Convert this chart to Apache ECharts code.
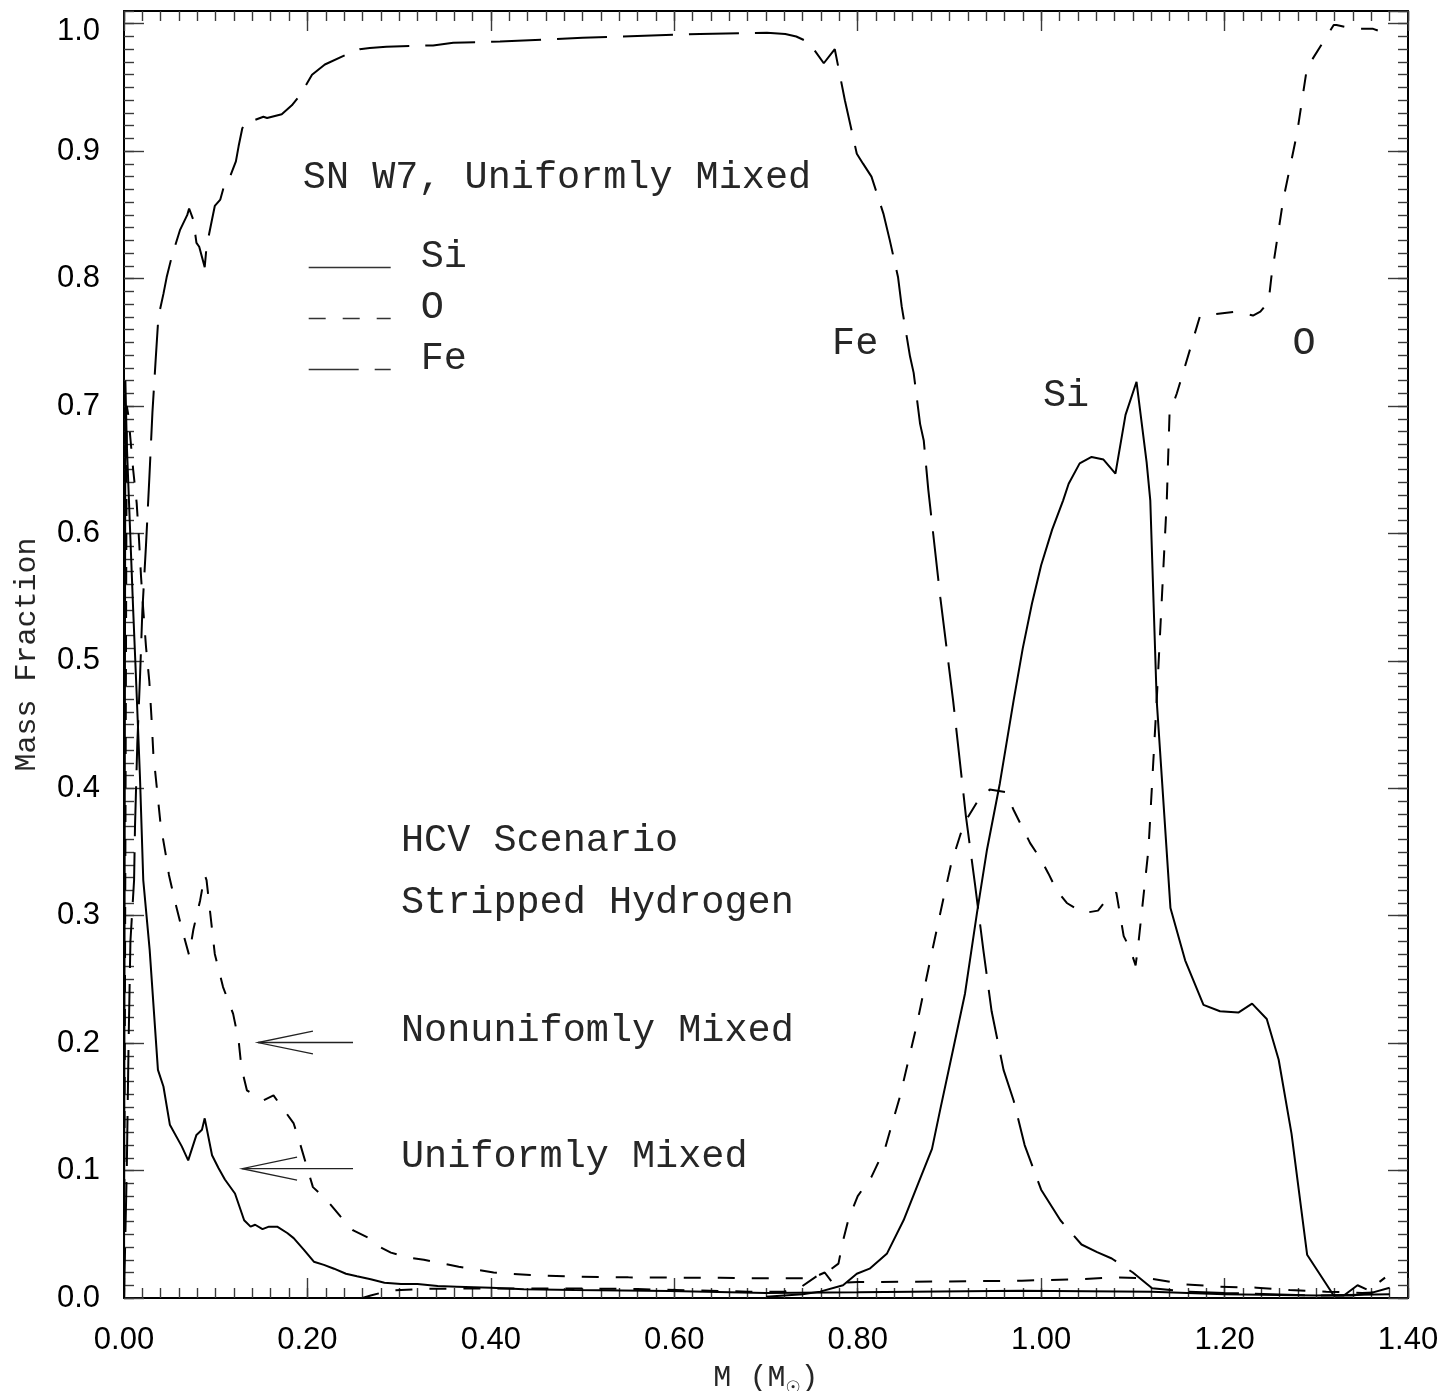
<!DOCTYPE html>
<html>
<head>
<meta charset="utf-8">
<title>Mass fraction vs M</title>
<script src="https://cdn.jsdelivr.net/npm/echarts@6/dist/echarts.min.js"></script>
<style>
html, body { margin: 0; padding: 0; background: #fff; }
#chart { width: 1441px; height: 1391px; }
</style>
</head>
<body>
<div id="chart"></div>
<script>
// tick labels
const xTickLabels = ['0.00', '0.20', '0.40', '0.60', '0.80', '1.00', '1.20', '1.40'];
const yTickLabels = ['0.0', '0.1', '0.2', '0.3', '0.4', '0.5', '0.6', '0.7', '0.8', '0.9', '1.0'];

// SN W7, uniformly mixed : [M, mass fraction]
const siW7 = [
  [0.70, 0.001], [0.72, 0.002], [0.74, 0.003], [0.759, 0.005], [0.784, 0.010], [0.799, 0.019],
  [0.813, 0.023], [0.832, 0.035], [0.85, 0.061], [0.866, 0.09], [0.881, 0.117], [0.89, 0.148],
  [0.904, 0.195], [0.917, 0.239], [0.93, 0.302], [0.941, 0.352], [0.955, 0.404], [0.97, 0.469],
  [0.98, 0.51], [0.99, 0.545], [1.00, 0.575], [1.012, 0.603], [1.024, 0.626], [1.03, 0.639],
  [1.042, 0.655], [1.055, 0.66], [1.068, 0.658], [1.081, 0.647], [1.092, 0.693], [1.104, 0.719],
  [1.115, 0.656], [1.119, 0.626], [1.126, 0.469], [1.141, 0.306], [1.157, 0.265], [1.177, 0.23],
  [1.195, 0.225], [1.215, 0.224], [1.23, 0.231], [1.246, 0.219], [1.259, 0.187], [1.273, 0.129],
  [1.29, 0.034], [1.319, 0.002], [1.34, 0.002], [1.36, 0.004], [1.38, 0.008]
];

const oW7 = [
  [0.26, 0.0], [0.269, 0.002], [0.291, 0.006], [0.33, 0.0072], [0.40, 0.0075], [0.50, 0.0075],
  [0.56, 0.007], [0.62, 0.006], [0.68, 0.005], [0.72, 0.005], [0.739, 0.009], [0.755, 0.017],
  [0.768, 0.021], [0.779, 0.027], [0.784, 0.045], [0.79, 0.062], [0.80, 0.08], [0.815, 0.095],
  [0.83, 0.118], [0.846, 0.158], [0.864, 0.213], [0.879, 0.265], [0.893, 0.312], [0.902, 0.341],
  [0.913, 0.366], [0.919, 0.376], [0.93, 0.389], [0.944, 0.399], [0.961, 0.397], [0.97, 0.383],
  [0.979, 0.37], [0.988, 0.357], [0.999, 0.345], [1.008, 0.333], [1.017, 0.32], [1.028, 0.31],
  [1.046, 0.302], [1.062, 0.304], [1.075, 0.316], [1.082, 0.318], [1.09, 0.284], [1.097, 0.274],
  [1.103, 0.261], [1.106, 0.278], [1.113, 0.325], [1.117, 0.352], [1.121, 0.404], [1.126, 0.469],
  [1.137, 0.626], [1.14, 0.694], [1.148, 0.71], [1.173, 0.77], [1.177, 0.771], [1.213, 0.774],
  [1.231, 0.771], [1.239, 0.774], [1.248, 0.782], [1.251, 0.801], [1.264, 0.862], [1.279, 0.914],
  [1.29, 0.966], [1.293, 0.969], [1.319, 0.999], [1.322, 0.999], [1.34, 0.996], [1.362, 0.996],
  [1.377, 0.992]
];

const feW7 = [
  [0.0, 0.0], [0.003, 0.10], [0.005, 0.2], [0.007, 0.28], [0.011, 0.328], [0.012, 0.37],
  [0.0145, 0.435], [0.0175, 0.488], [0.020, 0.539], [0.024, 0.591], [0.0276, 0.643], [0.031, 0.695],
  [0.0345, 0.736], [0.0375, 0.77], [0.043, 0.788], [0.0465, 0.801], [0.052, 0.817], [0.061, 0.838],
  [0.069, 0.85], [0.071, 0.855], [0.0756, 0.846], [0.079, 0.828], [0.082, 0.825], [0.088, 0.809],
  [0.09, 0.825], [0.0956, 0.845], [0.099, 0.857], [0.105, 0.862], [0.11, 0.875], [0.114, 0.877],
  [0.122, 0.892], [0.125, 0.904], [0.129, 0.918], [0.134, 0.924], [0.141, 0.924], [0.152, 0.927],
  [0.156, 0.926], [0.172, 0.929], [0.183, 0.936], [0.192, 0.944], [0.205, 0.96], [0.219, 0.968],
  [0.243, 0.976], [0.257, 0.98], [0.268, 0.981], [0.286, 0.982], [0.337, 0.983], [0.359, 0.985],
  [0.41, 0.986], [0.5, 0.989], [0.628, 0.992], [0.701, 0.993], [0.721, 0.992], [0.733, 0.99],
  [0.748, 0.985], [0.753, 0.979], [0.763, 0.969], [0.775, 0.98], [0.786, 0.94], [0.799, 0.898],
  [0.806, 0.89], [0.815, 0.88], [0.828, 0.851], [0.835, 0.83], [0.844, 0.801], [0.848, 0.778],
  [0.857, 0.739], [0.861, 0.726], [0.868, 0.686], [0.872, 0.673], [0.877, 0.634], [0.89, 0.55],
  [0.904, 0.469], [0.918, 0.378], [0.928, 0.324], [0.937, 0.273], [0.946, 0.225], [0.959, 0.179],
  [0.97, 0.155], [0.982, 0.12], [1.0, 0.085], [1.021, 0.061], [1.044, 0.042], [1.061, 0.036],
  [1.077, 0.031], [1.1, 0.02], [1.121, 0.0076], [1.16, 0.005], [1.2, 0.004], [1.25, 0.003],
  [1.3, 0.002], [1.33, 0.002], [1.345, 0.010], [1.357, 0.006], [1.375, 0.016]
];

// HCV scenario, stripped hydrogen
const hUniform = [
  [0.0, 0.0], [0.0015, 0.72], [0.003, 0.671], [0.0065, 0.605], [0.010, 0.54], [0.0138, 0.474],
  [0.0174, 0.409], [0.021, 0.328], [0.028, 0.273], [0.037, 0.179], [0.043, 0.166], [0.05, 0.136],
  [0.063, 0.119], [0.07, 0.108], [0.079, 0.128], [0.085, 0.132], [0.088, 0.141], [0.096, 0.112],
  [0.103, 0.102], [0.11, 0.093], [0.121, 0.082], [0.131, 0.061], [0.138, 0.056], [0.143, 0.0575],
  [0.151, 0.054], [0.158, 0.056], [0.167, 0.056], [0.178, 0.051], [0.185, 0.047], [0.196, 0.038],
  [0.207, 0.0285], [0.218, 0.026], [0.229, 0.023], [0.242, 0.019], [0.254, 0.017], [0.269, 0.0147],
  [0.284, 0.012], [0.302, 0.011], [0.32, 0.011], [0.342, 0.0094], [0.363, 0.0089], [0.40, 0.008],
  [0.436, 0.0068], [0.491, 0.0063], [0.595, 0.0055], [0.70, 0.004], [0.80, 0.0045], [0.977, 0.0057],
  [1.12, 0.005], [1.2, 0.003], [1.3, 0.002], [1.38, 0.003]
];

const hNonuniform = [
  [0.0, 0.0], [0.003, 0.70], [0.0047, 0.693], [0.010, 0.65], [0.0138, 0.624], [0.0164, 0.595],
  [0.0185, 0.567], [0.021, 0.54], [0.024, 0.511], [0.0276, 0.484], [0.030, 0.455], [0.032, 0.427],
  [0.036, 0.399], [0.040, 0.371], [0.0465, 0.344], [0.049, 0.332], [0.056, 0.31], [0.063, 0.29],
  [0.071, 0.269], [0.0756, 0.289], [0.083, 0.312], [0.088, 0.332], [0.090, 0.328], [0.099, 0.27],
  [0.108, 0.244], [0.119, 0.223], [0.125, 0.202], [0.128, 0.181], [0.134, 0.163], [0.145, 0.158],
  [0.152, 0.155], [0.163, 0.159], [0.172, 0.15], [0.185, 0.137], [0.192, 0.121], [0.206, 0.087],
  [0.221, 0.077], [0.236, 0.064], [0.25, 0.053], [0.267, 0.047], [0.279, 0.04], [0.291, 0.0356],
  [0.308, 0.032], [0.327, 0.030], [0.365, 0.0246], [0.403, 0.020], [0.443, 0.018], [0.491, 0.0167],
  [0.55, 0.0162], [0.6, 0.016], [0.65, 0.0158], [0.7, 0.0155], [0.75, 0.0155], [0.764, 0.020],
  [0.773, 0.0115], [0.8, 0.0125], [0.85, 0.0128], [0.9, 0.013], [0.979, 0.0136], [1.041, 0.0147],
  [1.079, 0.0162], [1.117, 0.0155], [1.157, 0.0107], [1.195, 0.0089], [1.235, 0.0081],
  [1.271, 0.0063], [1.311, 0.005], [1.35, 0.004], [1.38, 0.005]
];

// styles
const monoFont = '"Liberation Mono", "DejaVu Sans Mono", monospace';
const tickFont = '"Liberation Sans", Arial, sans-serif';
const textColor = '#262626';
const shortDash = [17, 17];
const longDash = [50, 16];

const chart = echarts.init(document.getElementById('chart'));

// helpers for the four sets of axis ticks (major and minor on each side)
function xAxisOf(position, interval, tickLen, withLine, withLabel) {
  return {
    type: 'value', position: position, min: 0, max: 1.4, interval: interval,
    axisLine: { show: withLine, onZero: false, lineStyle: { color: '#000', width: 2 } },
    axisTick: { show: true, inside: true, length: tickLen, lineStyle: { color: '#3a3a3a', width: 1.4 } },
    axisLabel: withLabel ? {
      show: true, margin: 27, fontFamily: tickFont, fontSize: 31, color: '#000',
      formatter: v => xTickLabels[Math.round(v / 0.2)]
    } : { show: false },
    splitLine: { show: false }
  };
}
function yAxisOf(position, interval, tickLen, withLine, withLabel) {
  return {
    type: 'value', position: position, min: 0, max: 1.01, interval: interval,
    axisLine: { show: withLine, onZero: false, lineStyle: { color: '#000', width: 2 } },
    axisTick: { show: true, inside: true, length: tickLen, lineStyle: { color: '#3a3a3a', width: 1.4 } },
    axisLabel: withLabel ? {
      show: true, margin: 24, fontFamily: tickFont, fontSize: 31, color: '#000', showMaxLabel: false,
      formatter: v => {
        if (v > 1.005) return '';
        const i = Math.round(v * 10);
        return i === 10 ? '{t|' + yTickLabels[i] + '}' : yTickLabels[i];
      },
      rich: { t: { fontFamily: tickFont, fontSize: 31, color: '#000', padding: [16, 0, 0, 0] } }
    } : { show: false },
    splitLine: { show: false }
  };
}

const xMain = xAxisOf('bottom', 0.2, 20, true, true);
xMain.name = 'M (M{s|\u2609})';
xMain.nameLocation = 'middle';
xMain.nameGap = 62;
xMain.nameTextStyle = {
  fontFamily: monoFont, fontSize: 30, color: textColor, verticalAlign: 'top',
  rich: { s: { fontFamily: '"DejaVu Sans"', fontSize: 17, color: textColor, padding: [20, 0, 0, 0] } }
};

const yMain = yAxisOf('left', 0.1, 20, true, true);
yMain.name = 'Mass Fraction';
yMain.nameLocation = 'middle';
yMain.nameGap = 82;
yMain.nameRotate = 90;
yMain.nameTextStyle = { fontFamily: monoFont, fontSize: 30, color: textColor };

function curve(name, data, dash) {
  return {
    name: name, type: 'line', data: data, xAxisIndex: 0, yAxisIndex: 0,
    symbol: 'none', showSymbol: false, silent: true, animation: false,
    itemStyle: { color: '#000' },
    lineStyle: { color: '#000', width: 2, type: dash }
  };
}

chart.setOption({
  backgroundColor: '#fff',
  animation: false,
  grid: { left: 124, right: 33, top: 11, bottom: 93, containLabel: false, outerBoundsMode: 'none' },
  xAxis: [
    xMain,
    xAxisOf('bottom', 0.02, 10, false, false),
    xAxisOf('top', 0.2, 20, true, false),
    xAxisOf('top', 0.02, 10, false, false)
  ],
  yAxis: [
    yMain,
    yAxisOf('left', 0.01, 10, false, false),
    yAxisOf('right', 0.1, 20, true, false),
    yAxisOf('right', 0.01, 10, false, false)
  ],
  legend: {
    data: ['Si', 'O', 'Fe'],
    formatter: name => name + '\n ',
    orient: 'vertical', left: 308, top: 237, padding: 0,
    itemWidth: 82, itemHeight: 14, itemGap: -10,
    selectedMode: false,
    itemStyle: { opacity: 0, borderWidth: 0 },
    lineStyle: { width: 1.4, color: '#333' },
    textStyle: { fontFamily: monoFont, fontSize: 38.5, lineHeight: 22, color: textColor, padding: [0, 0, 0, 25] }
  },
  series: [
    curve('Si', siW7, 'solid'),
    curve('O', oW7, shortDash),
    curve('Fe', feW7, longDash),
    curve('H uniform', hUniform, 'solid'),
    curve('H nonuniform', hNonuniform, shortDash)
  ]
});

// annotations anchored in data coordinates
const notes = [
  { text: 'SN W7, Uniformly Mixed', at: [0.195, 0.879] },
  { text: 'Fe', at: [0.772, 0.749] },
  { text: 'Si', at: [1.002, 0.708] },
  { text: 'O', at: [1.274, 0.749] },
  { text: 'HCV Scenario', at: [0.302, 0.359] },
  { text: 'Stripped Hydrogen', at: [0.302, 0.310] },
  { text: 'Nonunifomly Mixed', at: [0.302, 0.210] },
  { text: 'Uniformly Mixed', at: [0.302, 0.111] }
];
const arrows = [
  { tail: [0.2497, 0.2005], tip: [0.146, 0.2005], barb: 0.06, spread: 0.009 },
  { tail: [0.2497, 0.1015], tip: [0.1287, 0.1015], barb: 0.06, spread: 0.009 }
];

const finder = { xAxisIndex: 0, yAxisIndex: 0 };
const px = p => chart.convertToPixel(finder, p);
const graphics = [];
notes.forEach(n => {
  const p = px(n.at);
  graphics.push({
    type: 'text', x: p[0], y: p[1], silent: true,
    style: { text: n.text, fontFamily: monoFont, fontSize: 38.5, fill: textColor, align: 'left', verticalAlign: 'middle' }
  });
});
arrows.forEach(a => {
  const t0 = px(a.tail), t1 = px(a.tip);
  const b1 = px([a.tip[0] + a.barb, a.tip[1] + a.spread]);
  const b2 = px([a.tip[0] + a.barb, a.tip[1] - a.spread]);
  graphics.push({
    type: 'polyline', silent: true,
    shape: { points: [t0, t1] },
    style: { stroke: '#222', lineWidth: 1.3, fill: null }
  });
  graphics.push({
    type: 'polyline', silent: true,
    shape: { points: [b1, t1, b2] },
    style: { stroke: '#222', lineWidth: 1.3, fill: null }
  });
});
chart.setOption({ graphic: graphics });
</script>
</body>
</html>
